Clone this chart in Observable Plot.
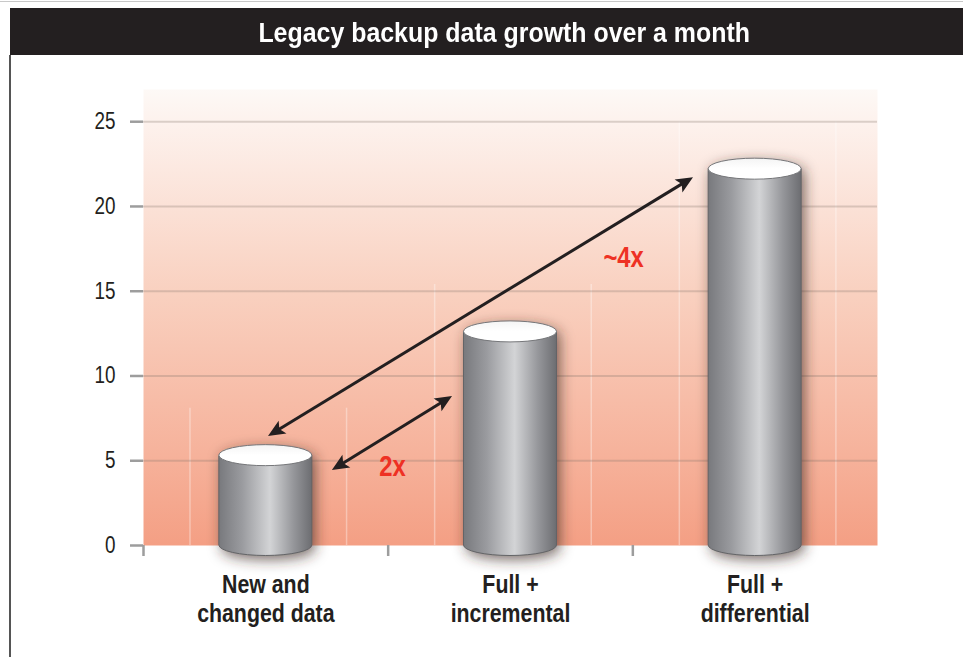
<!DOCTYPE html>
<html>
<head>
<meta charset="utf-8">
<script src="https://cdn.jsdelivr.net/npm/d3@7"></script>
<script src="https://cdn.jsdelivr.net/npm/@observablehq/plot@0.6"></script>
<style>
  body { margin: 0; background: #fff; }
  #wrap { position: relative; width: 963px; height: 657px; overflow: hidden;
          font-family: 'Liberation Sans', Arial, sans-serif; }
  #topline { position: absolute; left: 0; top: 1px; width: 963px; height: 1px; background: #c8c8c8; }
  #title { position: absolute; left: 10px; top: 8px; width: 953px; height: 47px; background: #231f20;
           color: #fff; font-weight: bold; font-size: 28px; line-height: 49px; text-align: center;
           box-sizing: border-box; padding-left: 35px; white-space: nowrap; }
  #title span { display: inline-block; transform: scaleX(0.89); transform-origin: 50% 50%; }
  #leftline { position: absolute; left: 9px; top: 55px; width: 2px; height: 602px; background: #555; }
  #chart { position: absolute; left: 0; top: 55px; }
</style>
</head>
<body>
<div id="wrap">
  <div id="topline"></div>
  <div id="title"><span>Legacy backup data growth over a month</span></div>
  <div id="leftline"></div>
  <div id="chart"></div>
</div>
<script>
// ---- data ----
const categories = ["New and\nchanged data", "Full +\nincremental", "Full +\ndifferential"];
const values = [5.3, 12.6, 22.2];
const yTicks = [0, 5, 10, 15, 20, 25];
const gridTicks = [5, 10, 15, 20, 25];
const boundaryTicks = [-0.5, 0.5, 1.5];
// double-headed arrows (data coordinates: x = category index, y = value)
const arrowX1 = [0.272, 0.011];
const arrowY1 = [4.42, 6.43];
const arrowX2 = [0.763, 1.748];
const arrowY2 = [8.79, 21.70];
const annoText = ["2x", "~4x"];
const annoX = [0.518, 1.462];
const annoY = [4.66, 16.98];

const FONT = "'Liberation Sans', Arial, sans-serif";
const NARROW = 0.82; // condensed look

const bars = categories.map((c, i) => ({i, c, v: values[i]}));
const arrows = arrowX1.map((_, k) => ({x1: arrowX1[k], y1: arrowY1[k], x2: arrowX2[k], y2: arrowY2[k]}));
const annos = annoText.map((t, k) => ({t, x: annoX[k], y: annoY[k]}));
const faint = bars.flatMap(d => [{x: d.i - 0.31, y2: d.v + 2.8}, {x: d.i + 0.33, y2: d.v + 2.8}]);

function defs() {
  const g = d3.create("svg:defs");
  const bg = g.append("linearGradient").attr("id", "bgGrad")
    .attr("x1", 0).attr("y1", 0).attr("x2", 0).attr("y2", 1);
  [[0, "#fdf9f6"], [0.08, "#fdf1ec"], [0.45, "#f9d0bf"], [0.8, "#f6b29b"], [1, "#f49f84"]]
    .forEach(([o, c]) => bg.append("stop").attr("offset", o).attr("stop-color", c));
  const cg = g.append("linearGradient").attr("id", "cylGrad")
    .attr("x1", 0).attr("y1", 0).attr("x2", 1).attr("y2", 0);
  [[0, "#78797d"], [0.25, "#9a9b9f"], [0.55, "#d3d4d6"], [0.8, "#96979b"], [1, "#6c6d71"]]
    .forEach(([o, c]) => cg.append("stop").attr("offset", o).attr("stop-color", c));
  const tg = g.append("linearGradient").attr("id", "topGrad")
    .attr("x1", 0).attr("y1", 0).attr("x2", 0).attr("y2", 1);
  [[0, "#f4f4f4"], [0.5, "#ffffff"], [1, "#ffffff"]]
    .forEach(([o, c]) => tg.append("stop").attr("offset", o).attr("stop-color", c));
  const f = g.append("filter").attr("id", "cylShadow")
    .attr("x", "-50%").attr("y", "-50%").attr("width", "200%").attr("height", "200%");
  f.append("feGaussianBlur").attr("stdDeviation", 7);
  return g.node();
}

function cylinders(index, scales) {
  const {x, y} = scales;
  const g = d3.create("svg:g");
  const hw = x(0.19) - x(0);
  const ry = 10.5;
  for (const d of bars) {
    const cx = x(d.i), yt = y(d.v), yb = y(0);
    const outline = `M${cx - hw},${yt}A${hw},${ry} 0 0 1 ${cx + hw},${yt}L${cx + hw},${yb}A${hw},${ry} 0 0 1 ${cx - hw},${yb}Z`;
    g.append("path").attr("d", outline).attr("transform", "translate(3,4)")
      .attr("fill", "#3a2825").attr("fill-opacity", 0.7).attr("filter", "url(#cylShadow)");
    const body = `M${cx - hw},${yt}L${cx - hw},${yb}A${hw},${ry} 0 0 0 ${cx + hw},${yb}L${cx + hw},${yt}Z`;
    g.append("path").attr("d", body).attr("fill", "url(#cylGrad)")
      .attr("stroke", "#636467").attr("stroke-width", 1);
    g.append("ellipse").attr("cx", cx).attr("cy", yt).attr("rx", hw).attr("ry", ry)
      .attr("fill", "url(#topGrad)").attr("stroke", "#76777a").attr("stroke-width", 1);
  }
  return g.node();
}

function arrowMark(index, scales) {
  const {x, y} = scales;
  const g = d3.create("svg:g");
  const L = 17, W = 7.5, inset = 12;
  for (const a of arrows) {
    const p1 = [x(a.x1), y(a.y1)], p2 = [x(a.x2), y(a.y2)];
    const dx = p2[0] - p1[0], dy = p2[1] - p1[1], len = Math.hypot(dx, dy);
    const ux = dx / len, uy = dy / len;
    g.append("line")
      .attr("x1", p1[0] + ux * inset).attr("y1", p1[1] + uy * inset)
      .attr("x2", p2[0] - ux * inset).attr("y2", p2[1] - uy * inset)
      .attr("stroke", "#231f20").attr("stroke-width", 3);
    for (const [tip, sx, sy] of [[p2, ux, uy], [p1, -ux, -uy]]) {
      const bx = tip[0] - sx * L, by = tip[1] - sy * L;
      const nx = tip[0] - sx * L * 0.78, ny = tip[1] - sy * L * 0.78;
      const px = -sy * W, py = sx * W;
      g.append("path")
        .attr("d", `M${tip[0]},${tip[1]}L${bx + px},${by + py}L${nx},${ny}L${bx - px},${by - py}Z`)
        .attr("fill", "#231f20");
    }
  }
  return g.node();
}

const plot = Plot.plot({
  width: 963,
  height: 602,
  marginLeft: 143,
  marginRight: 86,
  marginTop: 34,
  marginBottom: 112,
  x: {domain: [-0.5, 2.5]},
  y: {domain: [0, 26.9]},
  style: {fontFamily: FONT, color: "#231f20", background: "transparent", overflow: "visible"},
  marks: [
    defs,
    Plot.frame({fill: "url(#bgGrad)"}),
    Plot.ruleX(faint, {x: "x", y1: 0, y2: "y2", stroke: "#ffffff", strokeOpacity: 0.35, strokeWidth: 1.5}),
    Plot.gridY(gridTicks, {stroke: "#8a7a72", strokeOpacity: 0.3, strokeWidth: 2}),
    Plot.axisY(yTicks, {tickSize: 13, tickPadding: 15, fontSize: 23, stroke: "#9d9d9d", strokeWidth: 2.5, label: null}),
    Plot.axisX(boundaryTicks, {tickSize: 11, tickFormat: () => "", stroke: "#9d9d9d", strokeWidth: 2.5, label: null}),
    Plot.axisX([0, 1, 2], {tickSize: 0, tickPadding: 27, tickFormat: i => categories[i], fontSize: 26,
                           fontWeight: "bold", lineHeight: 1.12, label: null}),
    cylinders,
    arrowMark,
    Plot.text(annos, {x: "x", y: "y", text: "t", fill: "#ee3124", fontSize: 29, fontWeight: "bold"})
  ]
});
document.getElementById("chart").appendChild(plot);

// condense all chart text to mimic a condensed typeface
plot.querySelectorAll("text").forEach(t => {
  const spans = t.querySelectorAll("tspan");
  const targets = spans.length ? Array.from(spans) : [t];
  targets.forEach(el => {
    const len = el.getComputedTextLength();
    if (len > 0) {
      el.setAttribute("textLength", (len * NARROW).toFixed(1));
      el.setAttribute("lengthAdjust", "spacingAndGlyphs");
    }
  });
});
</script>
</body>
</html>
